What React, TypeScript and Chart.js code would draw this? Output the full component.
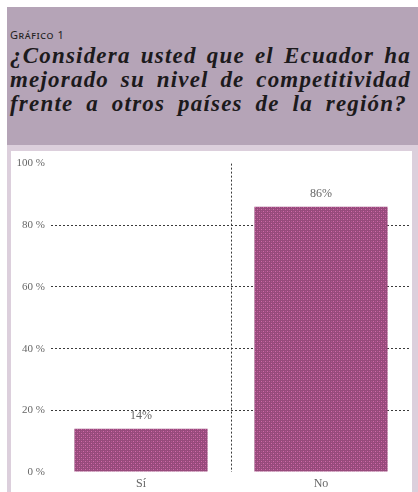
import React, { useEffect, useRef } from 'react';
import { Chart, registerables } from 'chart.js';

Chart.register(...registerables);

const categories = ['Sí', 'No'];
const values = [14, 86];
const valueLabels = ['14%', '86%'];
const yTickValues = [0, 20, 40, 60, 80, 100];
const titleKicker = 'Gráfico 1';
const titleLines = [
  '¿Considera usted que el Ecuador ha',
  'mejorado su nivel de competitividad',
  'frente a otros países de la región?',
];

function makePattern(ctx: CanvasRenderingContext2D) {
  const c = document.createElement('canvas');
  c.width = 4;
  c.height = 4;
  const g = c.getContext('2d')!;
  g.fillStyle = '#974a7b';
  g.fillRect(0, 0, 4, 4);
  g.fillStyle = '#d06aa8';
  g.fillRect(0, 0, 1, 1);
  g.fillRect(2, 2, 1, 1);
  g.fillStyle = '#a9588d';
  g.fillRect(2, 0, 1, 1);
  g.fillRect(0, 2, 1, 1);
  return ctx.createPattern(c, 'repeat');
}

const labelPlugin = {
  id: 'valueLabels',
  afterDatasetsDraw(chart: any) {
    const ctx = chart.ctx as CanvasRenderingContext2D;
    const meta = chart.getDatasetMeta(0);
    ctx.save();
    ctx.font = '12px "Liberation Serif"';
    ctx.fillStyle = '#666';
    ctx.textAlign = 'center';
    ctx.textBaseline = 'middle';
    meta.data.forEach((el: any, i: number) => {
      ctx.fillText(valueLabels[i], el.x, el.y - 13);
    });
    ctx.restore();
  },
};

function BarChart() {
  const ref = useRef<HTMLCanvasElement>(null);
  useEffect(() => {
    const canvas = ref.current!;
    const ctx = canvas.getContext('2d')!;
    const pattern = makePattern(ctx);
    const chart = new Chart(canvas, {
      type: 'bar',
      data: {
        labels: categories,
        datasets: [
          {
            data: values,
            backgroundColor: pattern as any,
            borderWidth: 0,
            barPercentage: 0.74,
            categoryPercentage: 1,
          },
        ],
      },
      options: {
        animation: false,
        responsive: false,
        devicePixelRatio: 1,
        layout: { padding: { top: 7, right: 1, left: 0, bottom: 0 } },
        plugins: { legend: { display: false }, tooltip: { enabled: false } },
        scales: {
          x: {
            grid: {
              offset: true,
              drawTicks: false,
              color: (c: any) => (c.index === 1 ? '#3a3a3a' : 'rgba(0,0,0,0)'),
              lineWidth: 1,
            },
            border: { display: false, dash: [2, 2] },
            ticks: {
              padding: 5,
              color: '#666',
              font: { family: '"Liberation Serif"', size: 12 },
            },
            afterFit: (s: any) => {
              s.height = 20;
            },
          },
          y: {
            min: 0,
            max: 100,
            afterBuildTicks: (s: any) => {
              s.ticks = yTickValues.map((v) => ({ value: v }));
            },
            grid: {
              drawTicks: false,
              color: (c: any) =>
                c.tick && (c.tick.value === 0 || c.tick.value === 100)
                  ? 'rgba(0,0,0,0)'
                  : '#3a3a3a',
              lineWidth: 1,
            },
            border: { display: false, dash: [2, 2] },
            ticks: {
              padding: 6,
              color: '#666',
              font: { family: '"Liberation Serif"', size: 11 },
              callback: (v: any) => `${v} %`,
            },
            afterFit: (s: any) => {
              s.width = 40;
            },
          },
        },
      },
      plugins: [labelPlugin],
    });
    return () => chart.destroy();
  }, []);
  return <canvas ref={ref} width={401} height={341} style={{ display: 'block', width: 401, height: 341 }} />;
}

export default function App() {
  return (
    <div style={{ position: 'fixed', left: 0, top: 0, width: 418, height: 492, background: '#fff', overflow: 'hidden' }}>
      <div style={{ position: 'absolute', left: 7, top: 7, width: 411, height: 138, background: '#b5a4b7' }} />
      <div
        style={{
          position: 'absolute',
          left: 10,
          top: 29,
          fontFamily: '"Noto Sans", sans-serif',
          fontSize: 11,
          lineHeight: '11px',
          fontVariant: 'small-caps',
          letterSpacing: '0.6px',
          color: '#222',
          whiteSpace: 'nowrap',
        }}
      >
        {titleKicker}
      </div>
      {titleLines.map((t, i) => (
        <div
          key={i}
          style={{
            position: 'absolute',
            left: 10,
            top: 44 + i * 24,
            width: i === 2 ? 397 : 401,
            fontFamily: '"Liberation Serif", serif',
            fontStyle: 'italic',
            fontWeight: 'bold',
            fontSize: 23,
            lineHeight: '24px',
            letterSpacing: '1.2px',
            color: '#1c1a1c',
            whiteSpace: 'nowrap',
            textAlign: 'justify',
            textAlignLast: 'justify',
          }}
        >
          {t}
        </div>
      ))}
      <div style={{ position: 'absolute', left: 7, top: 145, width: 411, height: 347, background: '#dccfdc' }} />
      <div style={{ position: 'absolute', left: 11, top: 151, width: 401, height: 341, background: '#fff' }}>
        <BarChart />
      </div>
    </div>
  );
}
